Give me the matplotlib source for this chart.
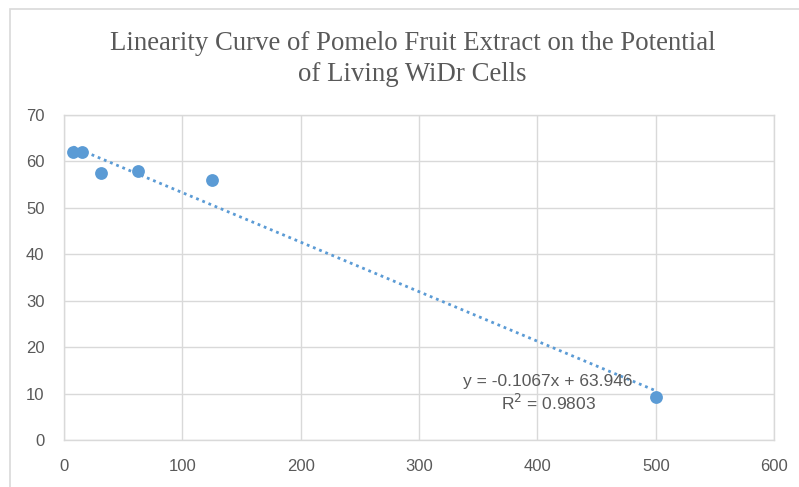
import numpy as np
import matplotlib
matplotlib.use("Agg")
import matplotlib.pyplot as plt
from matplotlib.patches import Rectangle

# data
conc = [7.8125, 15.625, 31.25, 62.5, 125, 500]
living = [62.0, 62.0, 57.5, 58.0, 56.0, 9.3]
slope = -0.1067
intercept = 63.946
r2 = 0.9803

title = "Linearity Curve of Pomelo Fruit Extract on the Potential\nof Living WiDr Cells"
x_ticks = [0, 100, 200, 300, 400, 500, 600]
y_ticks = [0, 10, 20, 30, 40, 50, 60, 70]

blue = '#5B9BD5'
grey_text = '#595959'
grid_col = '#D9D9D9'

fig = plt.figure(figsize=(7.99, 4.87), dpi=100)
ax = fig.add_axes([0.080, 0.0965, 0.889, 0.6675])

# outer chart border
fig.patches.append(Rectangle((10 / 799, -0.1), 1.2, 1 - 9 / 487 + 0.1,
                             transform=fig.transFigure, fill=False,
                             edgecolor='#D9D9D9', linewidth=1.2))

# trendline
xs = np.array([conc[0], conc[-1]])
ax.plot(xs, slope * xs + intercept, linestyle=(0, (1, 1.4)), color=blue,
        linewidth=2.0, zorder=2)

ax.scatter(conc, living, s=85, color=blue, zorder=3, linewidths=0)

ax.set_xlim(0, 600)
ax.set_ylim(0, 70)
ax.set_xticks(x_ticks)
ax.set_yticks(y_ticks)
ax.grid(True, color=grid_col, linewidth=1.0)
ax.set_axisbelow(True)
for s in ax.spines.values():
    s.set_color(grid_col)
    s.set_linewidth(1.0)
ax.tick_params(length=0, colors=grey_text, labelsize=12, pad=14)
for lab in ax.get_xticklabels() + ax.get_yticklabels():
    lab.set_family('Liberation Sans')

ax.text(409, 10.0, "y = -0.1067x + 63.946\nR$^2$ = 0.9803", ha='center', va='center',
        fontsize=12.5, color=grey_text, family='Liberation Sans', linespacing=1.25)

fig.text(0.516, 0.878, title, ha='center', va='center', fontsize=19.3,
         family='Liberation Serif', color=grey_text, linespacing=1.32)

fig.savefig('out.png', dpi=100)
